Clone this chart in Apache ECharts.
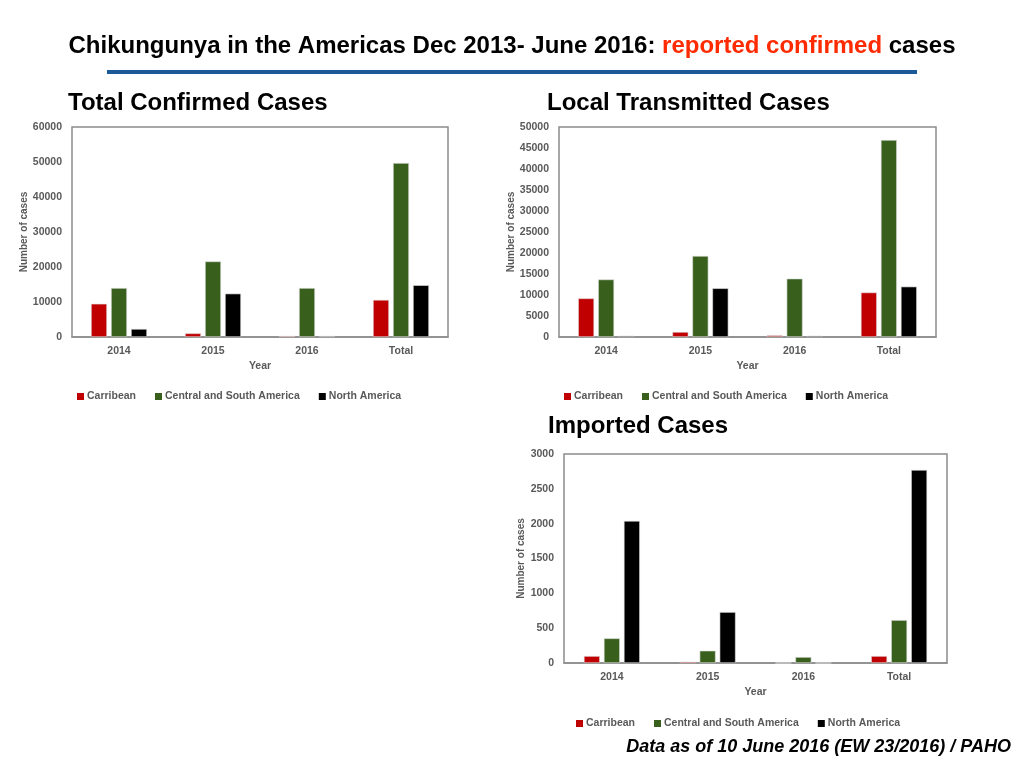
<!DOCTYPE html>
<html>
<head>
<meta charset="utf-8">
<script src="https://cdn.jsdelivr.net/npm/echarts@6/dist/echarts.min.js"></script>
<style>
    html, body { margin: 0; padding: 0; background: #fff; }
    #app { width: 1024px; height: 768px; }
</style>
</head>
<body>
<div id="app"></div>
<script>
// 类别
const years = ["2014", "2015", "2016", "Total"];
const seriesNames = ["Carribean", "Central and South America", "North America"];
// 总确诊病例
const totalCarribean = [9500, 1050, 300, 10600];
const totalCentralSouth = [14000, 21600, 14000, 49700];
const totalNorth = [2300, 12400, 300, 14800];
// 本地传播病例
const localCarribean = [9200, 1200, 400, 10600];
const localCentralSouth = [13700, 19300, 13900, 46900];
const localNorth = [300, 11600, 300, 12000];
// 输入病例
const importedCarribean = [100, 19, 0, 100];
const importedCentralSouth = [354, 177, 86, 616];
const importedNorth = [2040, 731, 0, 2771];
// y轴刻度
const totalTicks = {max: 60000, interval: 10000};
const localTicks = {max: 50000, interval: 5000};
const importedTicks = {max: 3000, interval: 500};

const colors = ["#c00000", "#38601c", "#000000"];
const labelFont = "'Liberation Sans', Arial, sans-serif";
const titleFont = "'Liberation Sans Narrow', 'Arial Narrow', 'Liberation Sans', sans-serif";
const gray = "#595959";

let myChart = echarts.init(document.querySelector("#app"));

let makeX = (gridIndex) => ({
    type: "category",
    gridIndex: gridIndex,
    data: years,
    name: "Year",
    nameLocation: "middle",
    nameGap: 24,
    nameTextStyle: {color: gray, fontWeight: "bold", fontSize: 10.5, fontFamily: labelFont},
    axisLine: {lineStyle: {color: "#8c8c8c", width: 1.5}},
    axisTick: {show: false},
    axisLabel: {color: gray, fontWeight: "bold", fontSize: 10.5, fontFamily: labelFont, margin: 9}
});

let makeY = (gridIndex, ticks, gap) => ({
    type: "value",
    gridIndex: gridIndex,
    min: 0,
    max: ticks.max,
    interval: ticks.interval,
    name: "Number of cases",
    nameLocation: "middle",
    nameGap: gap,
    nameTextStyle: {color: gray, fontWeight: "bold", fontSize: 10, fontFamily: labelFont},
    axisLine: {show: false},
    axisTick: {show: false},
    splitLine: {show: false},
    axisLabel: {
        color: gray, fontWeight: "bold", fontSize: 10.5, fontFamily: labelFont, margin: 10,
        // 不显示千位分隔符
        formatter: (v) => String(v)
    }
});

let makeBar = (name, data, idx, color) => ({
    name: name,
    type: "bar",
    xAxisIndex: idx,
    yAxisIndex: idx,
    data: data,
    barWidth: 16,
    barGap: "25%",
    itemStyle: {color: color, borderColor: "#e0e0e0", borderWidth: 0.6}
});

let makeLegend = (left, top) => ({
    left: left,
    top: top,
    icon: "rect",
    itemWidth: 7,
    itemHeight: 7,
    itemGap: 19,
    data: seriesNames,
    itemStyle: {borderWidth: 0},
    textStyle: {color: gray, fontWeight: "bold", fontSize: 10.5, fontFamily: labelFont, padding: [0, 0, 0, -2]}
});

let gridBase = {show: true, borderColor: "#8c8c8c", borderWidth: 1.5, outerBoundsMode: "none", containLabel: false};

myChart.setOption({
    backgroundColor: "#fff",
    animation: false,
    color: colors,
    title: [
        {
            text: "{a|Chikungunya in the Americas Dec 2013- June 2016: }{b|reported confirmed}{a| cases}",
            left: "center",
            top: 29,
            textStyle: {
                rich: {
                    a: {color: "#000", fontWeight: "bold", fontSize: 24, fontFamily: titleFont},
                    b: {color: "#ff2a00", fontWeight: "bold", fontSize: 24, fontFamily: titleFont}
                }
            }
        },
        {text: "Total Confirmed Cases", left: 63, top: 86, textStyle: {color: "#000", fontWeight: "bold", fontSize: 24, fontFamily: titleFont}},
        {text: "Local Transmitted Cases", left: 542, top: 86, textStyle: {color: "#000", fontWeight: "bold", fontSize: 24, fontFamily: titleFont}},
        {text: "Imported Cases", left: 543, top: 409, textStyle: {color: "#000", fontWeight: "bold", fontSize: 24, fontFamily: titleFont}},
        {text: "Data as of 10 June 2016 (EW 23/2016) / PAHO", right: 8, top: 733, textStyle: {color: "#000", fontWeight: "bold", fontStyle: "italic", fontSize: 18, fontFamily: labelFont}}
    ],
    graphic: [
        {type: "line", shape: {x1: 107, y1: 72, x2: 917, y2: 72}, style: {stroke: "#1b5a97", lineWidth: 4}}
    ],
    legend: [
        makeLegend(72, 386),
        makeLegend(559, 386),
        makeLegend(571, 713)
    ],
    grid: [
        Object.assign({left: 72, top: 127, width: 376, height: 210}, gridBase),
        Object.assign({left: 559, top: 127, width: 377, height: 210}, gridBase),
        Object.assign({left: 564, top: 454, width: 383, height: 209}, gridBase)
    ],
    xAxis: [makeX(0), makeX(1), makeX(2)],
    yAxis: [makeY(0, totalTicks, 42), makeY(1, localTicks, 42), makeY(2, importedTicks, 36)],
    series: [
        makeBar(seriesNames[0], totalCarribean, 0, colors[0]),
        makeBar(seriesNames[1], totalCentralSouth, 0, colors[1]),
        makeBar(seriesNames[2], totalNorth, 0, colors[2]),
        makeBar(seriesNames[0], localCarribean, 1, colors[0]),
        makeBar(seriesNames[1], localCentralSouth, 1, colors[1]),
        makeBar(seriesNames[2], localNorth, 1, colors[2]),
        makeBar(seriesNames[0], importedCarribean, 2, colors[0]),
        makeBar(seriesNames[1], importedCentralSouth, 2, colors[1]),
        makeBar(seriesNames[2], importedNorth, 2, colors[2])
    ]
});
</script>
</body>
</html>
